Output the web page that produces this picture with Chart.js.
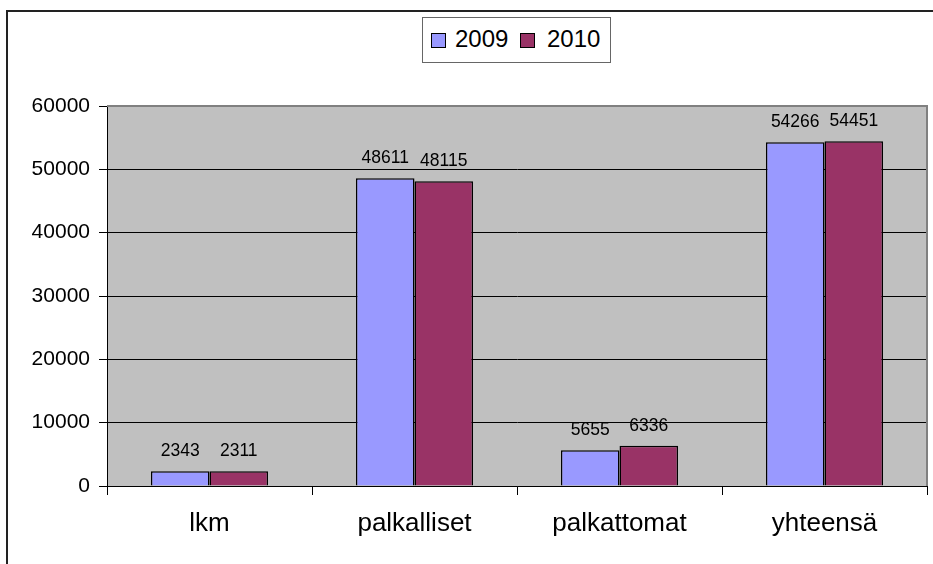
<!DOCTYPE html>
<html>
<head>
<meta charset="utf-8">
<script src="https://cdn.jsdelivr.net/npm/chart.js@4/dist/chart.umd.min.js"></script>
<style>
  html, body { margin:0; padding:0; background:#fff; overflow:hidden; }
  #wrap { position:relative; width:933px; height:564px; }
  #frame { position:absolute; left:6px; top:10px; width:960px; height:600px; border:2px solid #222; box-sizing:border-box; }
  #legend { position:absolute; left:422px; top:17px; width:189px; height:46px; border:1px solid #666; box-sizing:border-box; background:#fff;
            font-family:"Liberation Sans", Arial, sans-serif; font-size:24px; color:#000; }
  .sw { position:absolute; width:15px; height:15px; border:1.5px solid #000; box-sizing:border-box; }
  .lbl { position:absolute; white-space:nowrap; }
  canvas { position:absolute; left:0; top:0; }
</style>
</head>
<body>
<div id="wrap">
  <div id="frame"></div>
  <canvas id="c" width="933" height="564"></canvas>
  <div id="legend"></div>
</div>
<script>
const categories = ["lkm", "palkalliset", "palkattomat", "yhteensä"];
const seriesLabels = ["2009", "2010"];
const values2009 = [2343, 48611, 5655, 54266];
const values2010 = [2311, 48115, 6336, 54451];
const seriesColors = ["#9999FF", "#993366"];
const yTicks = [0, 10000, 20000, 30000, 40000, 50000, 60000];

const FONT = '"Liberation Sans", Arial, sans-serif';

// HTML legend
const legend = document.getElementById('legend');
const legendPos = [{sw: 8, txt: 32}, {sw: 97, txt: 124}];
seriesLabels.forEach((lab, i) => {
  const sw = document.createElement('div');
  sw.className = 'sw';
  sw.style.left = legendPos[i].sw + 'px';
  sw.style.top = '15px';
  sw.style.background = seriesColors[i];
  legend.appendChild(sw);
  const t = document.createElement('div');
  t.className = 'lbl';
  t.style.left = legendPos[i].txt + 'px';
  t.style.top = '8px';
  t.style.lineHeight = '26px';
  t.textContent = lab;
  legend.appendChild(t);
});

const plotBg = {
  id: 'plotBg',
  beforeDraw(chart) {
    const {ctx, chartArea: a} = chart;
    ctx.save();
    ctx.fillStyle = '#C0C0C0';
    ctx.fillRect(a.left, a.top, a.right - a.left, a.bottom - a.top);
    ctx.restore();
  },
  afterDraw(chart) {
    const {ctx, chartArea: a} = chart;
    ctx.save();
    ctx.strokeStyle = '#808080';
    ctx.lineWidth = 2;
    ctx.beginPath();
    ctx.moveTo(a.left, a.top);
    ctx.lineTo(a.right, a.top);
    ctx.lineTo(a.right, a.bottom);
    ctx.stroke();
    ctx.restore();
  }
};

const valueLabels = {
  id: 'valueLabels',
  afterDatasetsDraw(chart) {
    const {ctx} = chart;
    ctx.save();
    ctx.font = '17.5px ' + FONT;
    ctx.fillStyle = '#000';
    ctx.textAlign = 'center';
    ctx.textBaseline = 'alphabetic';
    chart.data.datasets.forEach((ds, di) => {
      chart.getDatasetMeta(di).data.forEach((bar, i) => {
        ctx.fillText(String(ds.data[i]), bar.x, bar.y - 15);
      });
    });
    ctx.restore();
  }
};

new Chart(document.getElementById('c'), {
  type: 'bar',
  data: {
    labels: categories,
    datasets: [
      { label: seriesLabels[0], data: values2009, backgroundColor: seriesColors[0], borderColor: '#000', borderWidth: 1.5 },
      { label: seriesLabels[1], data: values2010, backgroundColor: seriesColors[1], borderColor: '#000', borderWidth: 1.5 }
    ]
  },
  options: {
    responsive: false,
    animation: false,
    devicePixelRatio: 1,
    layout: { padding: { left: 0, top: 106, right: 6, bottom: 0 } },
    datasets: { bar: { categoryPercentage: 2 / 3.5, barPercentage: 1 } },
    plugins: { legend: { display: false }, tooltip: { enabled: false } },
    scales: {
      x: {
        afterFit(s) { s.height = 78; },
        grid: { display: true, offset: true, drawOnChartArea: false, drawTicks: true, tickLength: 9, color: '#000', lineWidth: 1 },
        border: { display: true, color: '#000', width: 1 },
        ticks: { font: { family: FONT, size: 26 }, color: '#000', padding: 13, maxRotation: 0 }
      },
      y: {
        min: 0, max: 60000,
        afterFit(s) { s.width = 107; },
        afterBuildTicks(s) { s.ticks = yTicks.map(v => ({ value: v })); },
        grid: {
          color: ctx => (ctx.tick && ctx.tick.value === 60000) ? 'rgba(0,0,0,0)' : '#000',
          tickColor: '#000', tickLength: 8, lineWidth: 1
        },
        border: { display: true, color: '#000', width: 1 },
        ticks: { font: { family: FONT, size: 21 }, color: '#000', padding: 9, callback: v => String(v) }
      }
    }
  },
  plugins: [plotBg, valueLabels]
});
</script>
</body>
</html>
